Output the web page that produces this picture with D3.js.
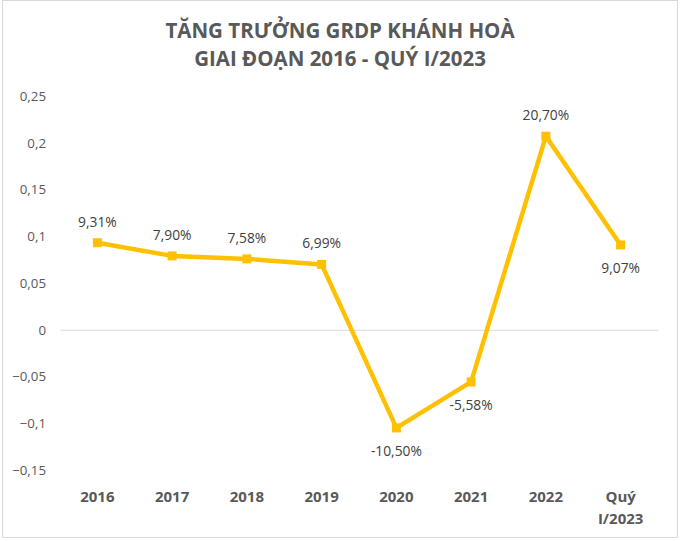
<!DOCTYPE html>
<html><head><meta charset="utf-8">
<script src="https://cdn.jsdelivr.net/npm/d3@7"></script>
<style>body{margin:0;background:#fff}svg{display:block}</style>
</head><body>
<svg id="c" width="681" height="541"></svg>
<script>
const categories = ["2016","2017","2018","2019","2020","2021","2022","Quý\nI/2023"];
const values = [0.0931, 0.0790, 0.0758, 0.0699, -0.1050, -0.0558, 0.2070, 0.0907];
const labels = ["9,31%","7,90%","7,58%","6,99%","-10,50%","-5,58%","20,70%","9,07%"];
const labelPos = ["above","above","above","above","below","below","above","below"];
const yTicks = [-0.15,-0.1,-0.05,0,0.05,0.1,0.15,0.2,0.25];
const titleLines = ["TĂNG TRƯỞNG GRDP KHÁNH HOÀ","GIAI ĐOẠN 2016 - QUÝ I/2023"];

const svg = d3.select("#c");
const font = "'Open Sans', 'Noto Sans', sans-serif";

// chart border
svg.append("rect").attr("x",2.5).attr("y",0.5).attr("width",675).attr("height",537)
  .attr("fill","#fff").attr("stroke","#d9d9d9").attr("stroke-width",1);

const x = d3.scaleBand().domain(categories).range([60, 658]);
const y = d3.scaleLinear().domain([-0.15, 0.25]).range([470, 96]);

// title
svg.append("g").selectAll("text").data(titleLines).join("text")
  .attr("x", 340).attr("y",(d,i)=>38+i*28)
  .attr("text-anchor","middle").attr("font-family",font).attr("font-weight","bold")
  .attr("font-size",20.5).attr("fill","#595959").text(d=>d);

// y axis labels
const yAxis = d3.axisLeft(y).tickValues(yTicks).tickSize(0).tickPadding(0)
  .tickFormat(d => d===0 ? "0" : d3.format("")(+d.toFixed(2)).replace(".",","));
const gy = svg.append("g").attr("transform","translate(46,0)").call(yAxis);
gy.select(".domain").remove();
gy.selectAll("text").attr("font-family",font).attr("font-size",13.3).attr("fill","#595959");

// zero line via x axis
const gx = svg.append("g").attr("transform",`translate(0,${y(0)})`)
  .call(d3.axisBottom(x).tickSize(0).tickFormat(""));
gx.select(".domain").attr("stroke","#d9d9d9").attr("stroke-width",1);

// category labels
const cat = svg.append("g").selectAll("text").data(categories).join("text")
  .attr("x", d=>x(d)+x.bandwidth()/2).attr("y",502)
  .attr("text-anchor","middle").attr("font-family",font).attr("font-weight","bold")
  .attr("font-size",15).attr("fill","#595959");
cat.each(function(d){
  const parts = d.split("\n");
  d3.select(this).selectAll("tspan").data(parts).join("tspan")
    .attr("x", x(d)+x.bandwidth()/2).attr("dy",(p,i)=>i===0?0:22).text(p=>p);
});

const pts = categories.map((c,i)=>({c, v:values[i], l:labels[i], p:labelPos[i]}));
const cx = d => x(d.c)+x.bandwidth()/2;

svg.append("path").datum(pts)
  .attr("d", d3.line().x(cx).y(d=>y(d.v)))
  .attr("fill","none").attr("stroke","#FFC000").attr("stroke-width",4.5).attr("stroke-linejoin","round");

svg.append("g").selectAll("rect").data(pts).join("rect")
  .attr("x",d=>cx(d)-4.5).attr("y",d=>y(d.v)-4.5).attr("width",9).attr("height",9)
  .attr("fill","#FFC000");

svg.append("g").selectAll("text").data(pts).join("text")
  .attr("x",cx).attr("y",d=> d.p==="above" ? y(d.v)-16 : y(d.v)+28)
  .attr("text-anchor","middle").attr("font-family",font).attr("font-size",13.8)
  .attr("fill","#404040").text(d=>d.l);
</script>
</body></html>
